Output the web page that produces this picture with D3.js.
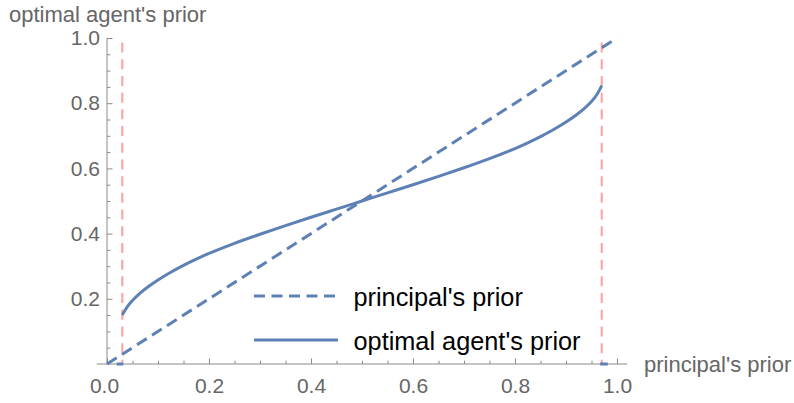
<!DOCTYPE html>
<html>
<head>
<meta charset="utf-8">
<script src="https://cdn.jsdelivr.net/npm/d3@7/dist/d3.min.js"></script>
<style>
  html, body { margin: 0; padding: 0; background: #fff; }
  svg { display: block; font-family: "Liberation Sans", Arial, sans-serif; }
</style>
</head>
<body>
<svg id="chart" width="794" height="403"></svg>
<script>
// ---- data ----
const agentX = [0.03, 0.04, 0.05, 0.065, 0.08, 0.10, 0.125, 0.15, 0.175, 0.20, 0.25, 0.30, 0.35, 0.40, 0.45, 0.50,
                0.55, 0.60, 0.65, 0.70, 0.75, 0.80, 0.825, 0.85, 0.875, 0.90, 0.92, 0.935, 0.95, 0.96, 0.97];
const agentY = [0.150, 0.176, 0.195, 0.2175, 0.2363, 0.2579, 0.2816, 0.3026, 0.3216, 0.3391, 0.3701, 0.3981, 0.4246, 0.4501, 0.4751, 0.500,
                0.5249, 0.5499, 0.5754, 0.6019, 0.6299, 0.6609, 0.6784, 0.6974, 0.7184, 0.7421, 0.7637, 0.7825, 0.805, 0.825, 0.854];
const principalX = [0, 1];
const principalY = [0, 1];
const boundaryX = [0.03, 0.97];           // red dashed verticals
const boundaryTop = 0.986;
const zeroSegs = [[0.019, 0.032], [0.967, 0.982]]; // short blue pieces on the axis
const xMajor = [0, 0.2, 0.4, 0.6, 0.8, 1.0];
const xLabels = ["0.0", "0.2", "0.4", "0.6", "0.8", "1.0"];
const yMajor = [0.2, 0.4, 0.6, 0.8, 1.0];
const yLabels = ["0.2", "0.4", "0.6", "0.8", "1.0"];
const legendNames = ["principal's prior", "optimal agent's prior"];
const xTitle = "principal's prior";
const yTitle = "optimal agent's prior";

// ---- styling ----
const blue = "#5E81B5";
const pink = "#FF9E9E";
const axisCol = "#8a8a8a";
const labelCol = "#666666";

const svg = d3.select("#chart");
const x = d3.scaleLinear().domain([0, 1]).range([107, 617]);
const y = d3.scaleLinear().domain([0, 1]).range([364, 38]);

// minor ticks
const xMinor = x.ticks(20).filter(v => !xMajor.some(m => Math.abs(m - v) < 1e-9));
const yMinor = y.ticks(20).filter(v => v > 0 && !yMajor.some(m => Math.abs(m - v) < 1e-9));

const g = svg.append("g");

// x axis
const xAxisMajor = d3.axisBottom(x).tickValues(xMajor).tickSizeInner(-5.5).tickSizeOuter(0)
  .tickPadding(14).tickFormat((d, i) => xLabels[i]);
const xg = g.append("g").attr("transform", `translate(0,${y(0)})`).call(xAxisMajor);
xg.select(".domain").remove();
xg.selectAll(".tick line").attr("stroke", axisCol);
xg.selectAll(".tick text").attr("fill", labelCol).attr("font-size", 21)
  .attr("font-family", "Liberation Sans, Arial, sans-serif")
  .attr("dx", d => d === 0 ? -3 : 0);
const xgm = g.append("g").attr("transform", `translate(0,${y(0)})`)
  .call(d3.axisBottom(x).tickValues(xMinor).tickSizeInner(-3.3).tickSizeOuter(0).tickFormat(""));
xgm.select(".domain").remove();
xgm.selectAll(".tick line").attr("stroke", axisCol);
g.append("line").attr("x1", x(-0.02)).attr("x2", x(1.02)).attr("y1", y(0)).attr("y2", y(0))
  .attr("stroke", axisCol).attr("stroke-width", 1);

// y axis
const yg = g.append("g").attr("transform", `translate(${x(0)},0)`)
  .call(d3.axisLeft(y).tickValues(yMajor).tickSizeInner(-5.5).tickSizeOuter(0).tickPadding(7)
    .tickFormat((d, i) => yLabels[i]));
yg.select(".domain").remove();
yg.selectAll(".tick line").attr("stroke", axisCol);
yg.selectAll(".tick text").attr("fill", labelCol).attr("font-size", 21)
  .attr("font-family", "Liberation Sans, Arial, sans-serif");
const ygm = g.append("g").attr("transform", `translate(${x(0)},0)`)
  .call(d3.axisLeft(y).tickValues(yMinor).tickSizeInner(-3.3).tickSizeOuter(0).tickFormat(""));
ygm.select(".domain").remove();
ygm.selectAll(".tick line").attr("stroke", axisCol);
g.append("line").attr("x1", x(0)).attr("x2", x(0)).attr("y1", y(0)).attr("y2", y(1))
  .attr("stroke", axisCol).attr("stroke-width", 1);

// axis titles
svg.append("text").attr("x", 9).attr("y", 22).attr("font-size", 22).attr("fill", labelCol).text(yTitle);
svg.append("text").attr("x", 644).attr("y", 372).attr("font-size", 22).attr("fill", labelCol).text(xTitle);

// red dashed verticals
svg.selectAll("line.bound").data(boundaryX).enter().append("line").attr("class", "bound")
  .attr("x1", d => x(d)).attr("x2", d => x(d))
  .attr("y1", y(boundaryTop)).attr("y2", y(0))
  .attr("stroke", pink).attr("stroke-width", 2).attr("stroke-dasharray", "10,6.7");

// short blue segments on the axis
svg.selectAll("line.zero").data(zeroSegs).enter().append("line").attr("class", "zero")
  .attr("x1", d => x(d[0])).attr("x2", d => x(d[1]))
  .attr("y1", y(0)).attr("y2", y(0))
  .attr("stroke", blue).attr("stroke-width", 3);

// principal's prior (dashed diagonal)
const line = d3.line().x(d => x(d[0])).y(d => y(d[1]));
svg.append("path").datum(principalX.map((v, i) => [v, principalY[i]]))
  .attr("d", line).attr("fill", "none").attr("stroke", blue).attr("stroke-width", 3)
  .attr("stroke-dasharray", "11.5,6.3");

// optimal agent's prior
const curve = d3.line().x(d => x(d[0])).y(d => y(d[1])).curve(d3.curveCatmullRom.alpha(0.5));
svg.append("path").datum(agentX.map((v, i) => [v, agentY[i]]))
  .attr("d", curve).attr("fill", "none").attr("stroke", blue).attr("stroke-width", 3)
  .attr("stroke-linejoin", "round");

// legend
const legY = [296, 340];
const leg = svg.append("g");
legendNames.forEach((name, i) => {
  leg.append("line").attr("x1", 254).attr("x2", 338).attr("y1", legY[i]).attr("y2", legY[i])
    .attr("stroke", blue).attr("stroke-width", 3)
    .attr("stroke-dasharray", i === 0 ? "11,6.5" : null);
  leg.append("text").attr("x", 353.5).attr("y", legY[i] + 9.5).attr("font-size", 25.3)
    .attr("fill", "#000").text(name);
});
</script>
</body>
</html>
